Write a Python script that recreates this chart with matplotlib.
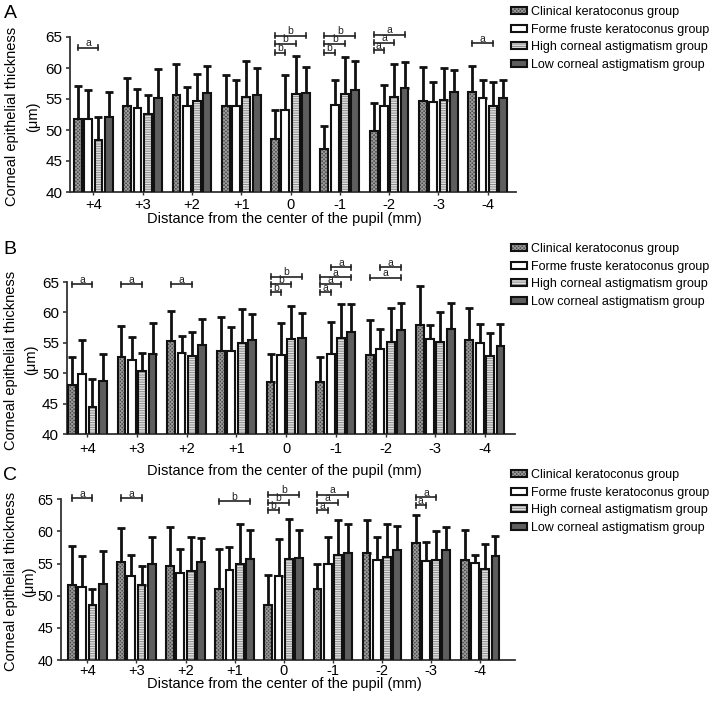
import matplotlib
matplotlib.use('Agg')
import matplotlib.pyplot as plt
from matplotlib.patches import Patch
import numpy as np

plt.rcParams['font.family'] = ['Liberation Sans', 'DejaVu Sans']
plt.rcParams['hatch.linewidth'] = 0.7

# ---------------- data ----------------
categories = ['+4', '+3', '+2', '+1', '0', '-1', '-2', '-3', '-4']
groups = ['Clinical keratoconus group', 'Forme fruste keratoconus group',
          'High corneal astigmatism group', 'Low corneal astigmatism group']

# Panel A  (mean, SD)
a_ckc = [51.8, 53.8, 55.6, 53.9, 48.5, 46.9, 49.8, 54.7, 56.1]
a_ckc_sd = [5.3, 4.6, 5.0, 5.0, 4.8, 3.7, 4.6, 5.5, 4.2]
a_ffkc = [51.8, 53.6, 53.9, 53.9, 53.2, 54.1, 53.8, 54.5, 55.2]
a_ffkc_sd = [4.7, 3.0, 3.1, 4.1, 5.6, 3.9, 3.4, 3.3, 2.9]
a_hca = [48.4, 52.6, 54.7, 55.4, 55.8, 55.8, 55.3, 54.8, 53.8]
a_hca_sd = [3.7, 3.0, 4.4, 5.7, 6.1, 5.9, 5.4, 5.2, 4.0]
a_lca = [52.1, 55.2, 56.0, 55.7, 55.9, 56.5, 56.7, 56.1, 55.2]
a_lca_sd = [4.1, 4.6, 4.3, 4.3, 4.3, 4.6, 4.3, 3.6, 2.8]

# Panel B
b_ckc = [48.1, 52.7, 55.3, 53.6, 48.5, 48.6, 53.0, 57.9, 55.4]
b_ckc_sd = [4.5, 5.0, 5.0, 5.6, 4.7, 4.1, 5.7, 6.4, 5.4]
b_ffkc = [49.9, 52.1, 53.3, 53.7, 53.0, 53.2, 53.9, 55.6, 55.0]
b_ffkc_sd = [5.5, 3.9, 2.9, 3.9, 5.3, 5.2, 3.3, 2.3, 3.1]
b_hca = [44.4, 50.3, 52.9, 54.9, 55.6, 55.8, 55.1, 55.1, 52.9]
b_hca_sd = [4.6, 3.1, 3.8, 5.7, 5.4, 5.5, 5.6, 4.9, 3.7]
b_lca = [48.7, 53.2, 54.7, 55.5, 55.8, 56.8, 57.1, 57.2, 54.4]
b_lca_sd = [4.4, 5.0, 4.2, 4.2, 4.1, 4.5, 4.5, 4.4, 3.7]

# Panel C
c_ckc = [51.7, 55.2, 54.7, 51.0, 48.6, 51.0, 56.7, 58.2, 55.6]
c_ckc_sd = [6.0, 5.3, 6.0, 6.2, 4.6, 4.0, 5.1, 4.3, 4.6]
c_ffkc = [51.4, 53.1, 53.5, 54.0, 53.1, 54.9, 55.6, 55.4, 55.1]
c_ffkc_sd = [4.8, 3.3, 3.8, 3.6, 5.8, 4.2, 3.6, 3.0, 1.3]
c_hca = [48.6, 51.7, 53.8, 55.0, 55.7, 56.3, 56.0, 55.6, 54.1]
c_hca_sd = [2.5, 3.0, 5.3, 6.1, 6.2, 5.5, 5.2, 4.5, 3.9]
c_lca = [51.9, 54.9, 55.2, 55.7, 55.9, 56.7, 57.1, 57.1, 56.2]
c_lca_sd = [5.0, 4.2, 3.8, 4.5, 4.3, 4.4, 3.8, 3.6, 3.1]

# significance brackets: (category index, bar i, bar j, height, letter)
a_sig = [(0, 0, 2, 63.3, 'a'),
         (4, 0, 1, 62.5, 'b'), (4, 0, 2, 63.9, 'b'), (4, 0, 3, 65.2, 'b'),
         (5, 0, 1, 62.5, 'b'), (5, 0, 2, 63.9, 'b'), (5, 0, 3, 65.2, 'b'),
         (6, 0, 1, 62.9, 'a'), (6, 0, 2, 64.1, 'a'), (6, 0, 3, 65.4, 'a'),
         (8, 0, 2, 64.0, 'a')]
b_sig = [(0, 0, 2, 64.6, 'a'), (1, 0, 2, 64.6, 'a'), (2, 0, 2, 64.6, 'a'),
         (4, 0, 1, 63.3, 'b'), (4, 0, 2, 64.6, 'b'), (4, 0, 3, 65.9, 'b'),
         (5, 0, 1, 63.3, 'a'), (5, 0, 2, 64.6, 'a'), (5, 0, 3, 65.8, 'a'),
         (5, 1, 3, 67.4, 'a'),
         (6, 0, 3, 65.7, 'a'), (6, 1, 3, 67.4, 'a')]
c_sig = [(0, 0, 2, 65.2, 'a'), (1, 0, 2, 65.2, 'a'), (3, 0, 3, 64.7, 'b'),
         (4, 0, 1, 63.3, 'b'), (4, 0, 2, 64.5, 'b'), (4, 0, 3, 65.7, 'b'),
         (5, 0, 1, 63.3, 'a'), (5, 0, 2, 64.5, 'a'), (5, 0, 3, 65.7, 'a'),
         (7, 0, 1, 64.1, 'a'), (7, 0, 2, 65.3, 'a')]

panels = [
    ('A', [a_ckc, a_ffkc, a_hca, a_lca], [a_ckc_sd, a_ffkc_sd, a_hca_sd, a_lca_sd], a_sig),
    ('B', [b_ckc, b_ffkc, b_hca, b_lca], [b_ckc_sd, b_ffkc_sd, b_hca_sd, b_lca_sd], b_sig),
    ('C', [c_ckc, c_ffkc, c_hca, c_lca], [c_ckc_sd, c_ffkc_sd, c_hca_sd, c_lca_sd], c_sig),
]

# ---------------- layout (pixels) ----------------
W, H = 712, 703
layout = [
    dict(l=70, r=516, t=37, b=192, x0=93.3, dx=49.3, pad=1.5, xl=219, lg=6, let=13,
         yfs=11, yl1=12, yl2=33),
    dict(l=66.7, r=515, t=282, b=434, x0=87.3, dx=49.7, pad=3.0, xl=471, lg=243, let=250,
         yfs=11, yl1=11, yl2=31),
    dict(l=60.7, r=515, t=499.3, b=660, x0=87.3, dx=49.1, pad=0.5, xl=684, lg=469, let=475,
         yfs=10.3, yl1=11, yl2=29),
]

styles = [
    dict(face='#4a4a4a', hatch='xxxxxxxxx', hc='#9a9a9a'),
    dict(face='white', hatch=None, hc='white'),
    dict(face='#e2e2e2', hatch='-------', hc='#8a8a8a'),
    dict(face='#5e5e5e', hatch=None, hc='#5e5e5e'),
]

offs = [-0.313, -0.1045, 0.1045, 0.313]
bw = 0.158

fig = plt.figure(figsize=(W / 100, H / 100), dpi=100)

for (letter, means, sds, sig), L in zip(panels, layout):
    ax = fig.add_axes([L['l'] / W, 1 - L['b'] / H, (L['r'] - L['l']) / W, (L['b'] - L['t']) / H])
    ax.set_xlim((L['l'] - L['x0']) / L['dx'], (L['r'] - L['x0']) / L['dx'])
    ax.set_ylim(40, 65)
    x = np.arange(len(categories))
    for g in range(4):
        st = styles[g]
        xs = x + offs[g]
        ax.errorbar(xs, means[g], yerr=[np.zeros(len(x)), sds[g]], fmt='none',
                    ecolor='#111111', elinewidth=2.0, capsize=2.6, capthick=2.0, zorder=1)
        ax.bar(xs, means[g], width=bw, color=st['face'], edgecolor=st['hc'],
               hatch=st['hatch'], linewidth=0, zorder=2)
        ax.bar(xs, means[g], width=bw, fill=False, edgecolor='#111111',
               linewidth=1.5, zorder=3)
    for (ci, i, j, yv, lt) in sig:
        x1 = ci + offs[i]
        x2 = ci + offs[j]
        ax.plot([x1, x2], [yv, yv], color='#222222', lw=1.2, clip_on=False, zorder=4)
        for xe in (x1, x2):
            ax.plot([xe, xe], [yv - 0.4, yv + 0.4], color='#222222', lw=1.2,
                    clip_on=False, zorder=4)
        ax.text((x1 + x2) / 2, yv - 0.1, lt, ha='center', va='bottom',
                fontsize=7.5, color='#222222', zorder=5)

    ax.set_xticks(x)
    ax.set_xticklabels(categories, fontsize=10.5)
    ax.set_yticks([40, 45, 50, 55, 60, 65])
    ax.tick_params(axis='y', labelsize=L['yfs'], length=3, width=1.2, pad=2.5, color='#333333')
    ax.tick_params(axis='x', length=2.5, width=1.0, pad=L['pad'], color='#333333')
    for s in ('top', 'right'):
        ax.spines[s].set_visible(False)
    for s in ('left', 'bottom'):
        ax.spines[s].set_linewidth(1.3)
        ax.spines[s].set_color('#333333')

    yc = (L['t'] + L['b']) / 2 + 2
    fig.text(L['yl1'] / W, 1 - yc / H, 'Corneal epithelial thickness', rotation=90,
             ha='center', va='center', fontsize=10.5)
    fig.text(L['yl2'] / W, 1 - yc / H, '(μm)', rotation=90, ha='center', va='center',
             fontsize=10.5)
    fig.text(284 / W, 1 - L['xl'] / H, 'Distance from the center of the pupil (mm)',
             ha='center', va='center', fontsize=10.5)
    fig.text(10 / W, 1 - L['let'] / H, letter, ha='center', va='center', fontsize=14,
             family=['Liberation Sans Narrow', 'Liberation Sans'])

    handles = []
    for st in styles:
        h1 = Patch(facecolor=st['face'], edgecolor=st['hc'], hatch=st['hatch'], linewidth=0)
        h2 = Patch(fill=False, edgecolor='#111111', linewidth=1.5)
        handles.append((h1, h2))
    fig.legend(handles, groups, loc='upper left', bbox_to_anchor=(511 / W, 1 - L['lg'] / H),
               frameon=False, fontsize=9, handlelength=1.3, handleheight=0.5,
               handletextpad=0.3, labelspacing=0.45, borderpad=0, borderaxespad=0)

fig.savefig('out.png', dpi=100)
